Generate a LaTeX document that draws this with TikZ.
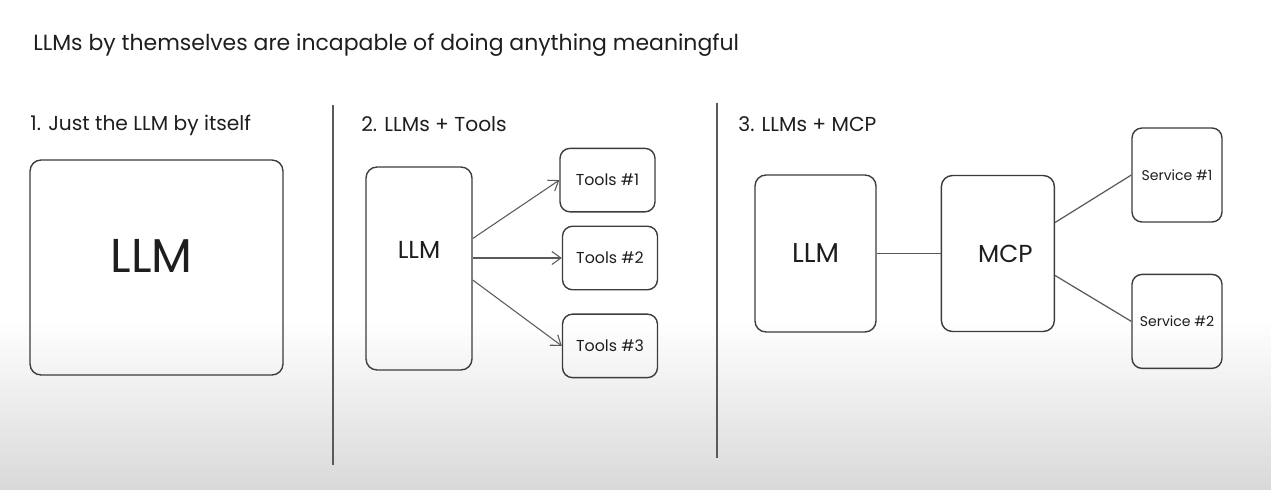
\documentclass[tikz,border=0pt]{standalone}
\usepackage{fontspec}
\setmainfont{Poppins}
\usepackage{tikz}
\usetikzlibrary{positioning, arrows.meta}
\definecolor{ink}{RGB}{30,30,30}
\definecolor{edge}{RGB}{60,60,60}
\definecolor{wire}{RGB}{90,90,90}
\tikzstyle{headline} = [anchor=west, inner sep=0pt, text=ink, font=\fontsize{12.5}{15}\selectfont]
\tikzstyle{heading} = [anchor=west, inner sep=0pt, text=ink, font=\fontsize{11.5}{13}\selectfont]
\tikzstyle{box} = [rectangle, rounded corners=0.22cm, draw=edge, line width=0.8pt, text=ink, inner sep=0pt, font=\fontsize{14}{16}\selectfont]
\tikzstyle{toolbox} = [box, rounded corners=0.2cm, minimum width=1.9cm, minimum height=1.27cm, font=\fontsize{9}{11}\selectfont]
\tikzstyle{servicebox} = [box, rounded corners=0.2cm, minimum width=1.8cm, minimum height=1.88cm, font=\fontsize{8}{10}\selectfont]
\tikzstyle{divider} = [draw=wire, line width=0.9pt]
\tikzstyle{arrow} = [draw=wire, line width=0.6pt, ->, >={Straight Barb[length=1.8mm, width=2.6mm]}]
\tikzstyle{link} = [draw=wire, line width=0.7pt]

\begin{document}
\begin{tikzpicture}[x=0.02cm, y=-0.02cm, node distance=1cm]
  % backdrop
  \fill [white] (0,0) rectangle (1271,490);
  \shade [top color=white, bottom color=black!15] (0,320) rectangle (1271,490);
  \useasboundingbox (0,0) rectangle (1271,490);

  \node (title) [headline] at (33,45) {LLMs by themselves are incapable of doing anything meaningful};
  \node (head1) [heading] at (30,125) {1. Just the LLM by itself};
  \node (head2) [heading] at (361,124) {2. LLMs + Tools};
  \node (head3) [heading] at (738,124) {3. LLMs + MCP};

  \draw [divider] (333,105) -- (333,465);
  \draw [divider] (717,103) -- (717,458);

  % 1. llm alone
  \node (llm1) [box, minimum width=5.06cm, minimum height=4.3cm, font=\fontsize{27}{30}\selectfont] at (156.5,267.5) {\hspace*{-0.2cm}\raisebox{0.46cm}{LLM}};

  % 2. llm + tools
  \node (llm2) [box, minimum width=2.12cm, minimum height=4.06cm] at (419,268.5) {\raisebox{0.74cm}{LLM}};
  \node (tool2) [toolbox] at (610,258) {Tools \#2};
  \node (tool1) [toolbox, above=0.26cm of tool2, xshift=-0.05cm] {Tools \#1};
  \node (tool3) [toolbox, below=0.46cm of tool2] {Tools \#3};
  \draw [arrow] ([yshift=0.6cm]llm2.east) -- (tool1.west);
  \draw [arrow] (llm2.east |- tool2.west) -- (tool2.west);
  \draw [arrow] ([yshift=-0.23cm]llm2.east) -- (tool3.west);

  % 3. llm + mcp
  \node (llm3) [box, minimum width=2.42cm, minimum height=3.14cm, font=\fontsize{15.5}{18}\selectfont] at (815.5,253.5) {LLM};
  \node (mcp) [box, right=1.28cm of llm3, minimum width=2.26cm, minimum height=3.12cm] {\hspace*{0.3cm}MCP};
  \node (svc1) [servicebox] at (1177,175) {Service \#1};
  \node (svc2) [servicebox, below=1.02cm of svc1] {Service \#2};
  \draw [link] (llm3) -- (mcp);
  \draw [link] ([yshift=0.62cm]mcp.east) -- (svc1.west);
  \draw [link] ([yshift=-0.44cm]mcp.east) -- (svc2.west);
\end{tikzpicture}
\end{document}
